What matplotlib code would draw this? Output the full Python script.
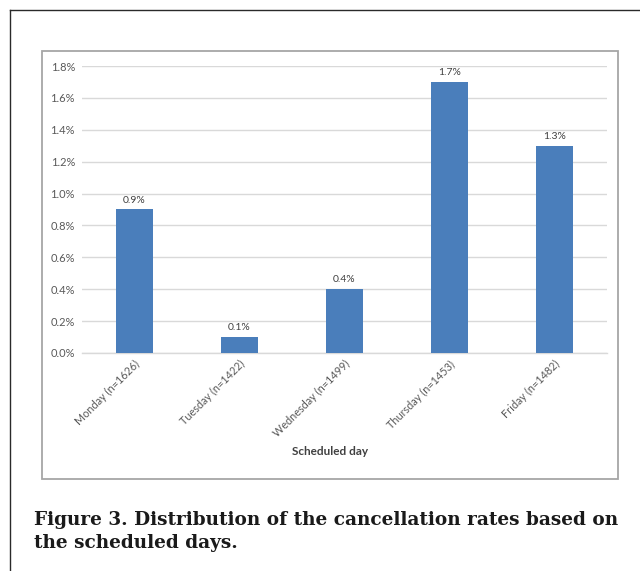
import matplotlib.pyplot as plt
from matplotlib.patches import Rectangle
from matplotlib.lines import Line2D

days = ["Monday (n=1626)", "Tuesday (n=1422)", "Wednesday (n=1499)",
        "Thursday (n=1453)", "Friday (n=1482)"]
rates = [0.9, 0.1, 0.4, 1.7, 1.3]
yticks = [0.0, 0.2, 0.4, 0.6, 0.8, 1.0, 1.2, 1.4, 1.6, 1.8]

caption_1 = "Figure 3. Distribution of the cancellation rates based on"
caption_2 = "the scheduled days."

bar_color = "#4a7ebb"
text_gray = "#595959"
sans = ["Lato", "DejaVu Sans"]
serif = ["DejaVu Serif"]

fig = plt.figure(figsize=(6.4, 5.71), dpi=100)

# outer page frame (top and left edges only)
fig.add_artist(Line2D([0.0156, 1.0], [0.9825, 0.9825], color="#2a2a2a", lw=1.0,
                      transform=fig.transFigure))
fig.add_artist(Line2D([0.0156, 0.0156], [0.0, 0.9825], color="#2a2a2a", lw=1.0,
                      transform=fig.transFigure))

# chart area box
fig.add_artist(Rectangle((0.0656, 0.1611), 0.9, 0.7496, transform=fig.transFigure,
                         fill=False, edgecolor="#a6a6a6", lw=1.3))

ax = fig.add_axes([0.128, 0.3818, 0.820, 0.5026])
x = range(len(days))
bars = ax.bar(x, rates, width=0.35, color=bar_color, zorder=3)

ax.set_xlim(-0.5, len(days) - 0.5)
ax.set_ylim(0, 1.8)
ax.set_yticks(yticks)
ax.set_yticklabels([f"{v:.1f}%" for v in yticks], fontsize=8, color=text_gray,
                   family=sans)
ax.set_xticks(list(x))
ax.set_xticklabels(days, rotation=45, ha="right", va="top", rotation_mode="anchor",
                   fontsize=7.8, color=text_gray, family=sans)
ax.tick_params(axis="y", length=0, pad=5)
ax.tick_params(axis="x", length=0, pad=4)

ax.grid(axis="y", color="#d9d9d9", lw=1.0, zorder=0)
for side in ["top", "right", "left"]:
    ax.spines[side].set_visible(False)
ax.spines["bottom"].set_color("#d9d9d9")
ax.spines["bottom"].set_linewidth(1.0)

for b, v in zip(bars, rates):
    ax.annotate(f"{v:.1f}%", (b.get_x() + b.get_width() / 2, v),
                xytext=(0, 3.5), textcoords="offset points", ha="center", va="bottom",
                fontsize=7.5, color="#404040", family=sans)

fig.text(0.5156, 0.2085, "Scheduled day", ha="center", va="center", fontsize=8.5,
         fontweight="bold", color="#404040", family=sans)

fig.text(0.053, 0.0805, caption_1, ha="left", va="baseline", fontsize=13.3,
         fontweight="bold", color="#1a1a1a", family=serif)
fig.text(0.053, 0.0403, caption_2, ha="left", va="baseline", fontsize=13.3,
         fontweight="bold", color="#1a1a1a", family=serif)

fig.savefig("out.png", dpi=100)
